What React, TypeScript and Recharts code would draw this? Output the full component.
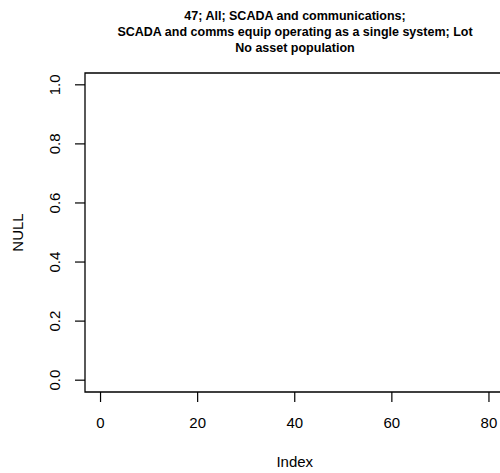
import React from 'react';
import { ComposedChart, XAxis, YAxis, Scatter, ReferenceArea } from 'recharts';

const titleLines: string[] = [
  '47; All; SCADA and communications;',
  'SCADA and comms equip operating as a single system; Lot',
  'No asset population',
];
const xTicks: number[] = [0, 20, 40, 60, 80];
const yTicks: number[] = [0, 0.2, 0.4, 0.6, 0.8, 1.0];
const xRange: number[] = [0, 80];
const yRange: number[] = [0, 1];
const seriesValues: { x: number; y: number }[] = []; // NULL: no asset population
const xLabel = 'Index';
const yLabel = 'NULL';

const pad = (r: number[]) => {
  const d = (r[1] - r[0]) * 0.04;
  return [r[0] - d, r[1] + d];
};
const xDomain = pad(xRange);
const yDomain = pad(yRange);

const FONT = '"Liberation Sans", Arial, Helvetica, sans-serif';

const YTick = (props: any) => {
  const { x, y, payload } = props;
  return (
    <text
      x={x}
      y={y}
      transform={`rotate(-90, ${x}, ${y})`}
      textAnchor="middle"
      fontSize={15}
      fontFamily={FONT}
      fill="#000"
    >
      {Number(payload.value).toFixed(1)}
    </text>
  );
};

const XTick = (props: any) => {
  const { x, y, payload } = props;
  return (
    <text x={x} y={y} dy={11} textAnchor="middle" fontSize={15} fontFamily={FONT} fill="#000">
      {payload.value}
    </text>
  );
};

const YLabel = (props: any) => {
  const vb = props.viewBox || {};
  const cx = 23;
  const cy = vb.y + vb.height / 2;
  return (
    <text
      x={cx}
      y={cy}
      transform={`rotate(-90, ${cx}, ${cy})`}
      textAnchor="middle"
      fontSize={15}
      fontFamily={FONT}
      fill="#000"
    >
      {yLabel}
    </text>
  );
};

const XLabel = (props: any) => {
  const vb = props.viewBox || {};
  const cx = vb.x + vb.width / 2;
  return (
    <text x={cx} y={467} textAnchor="middle" fontSize={15} fontFamily={FONT} fill="#000">
      {xLabel}
    </text>
  );
};

export default function App() {
  return (
    <div
      style={{
        position: 'fixed',
        left: 0,
        top: 0,
        width: 500,
        height: 473,
        overflow: 'hidden',
        background: '#fff',
      }}
    >
      <div
        style={{
          position: 'absolute',
          left: 85,
          top: 8,
          width: 420,
          textAlign: 'center',
          fontFamily: FONT,
          fontWeight: 'bold',
          fontSize: 12.5,
          lineHeight: '16px',
          color: '#000',
          zIndex: 2,
        }}
      >
        {titleLines.map((t, i) => (
          <div key={i}>{t}</div>
        ))}
      </div>
      <ComposedChart
        width={520}
        height={473}
        data={seriesValues}
        margin={{ top: 73, right: 15.5, bottom: 0, left: 0 }}
      >
        <XAxis
          type="number"
          dataKey="x"
          domain={xDomain}
          ticks={xTicks}
          allowDataOverflow
          axisLine={false}
          tickLine={{ stroke: '#000', strokeWidth: 1.2 }}
          tickSize={10}
          tickMargin={15}
          height={81}
          tick={<XTick />}
          interval={0}
          label={<XLabel />}
        />
        <YAxis
          type="number"
          dataKey="y"
          domain={yDomain}
          ticks={yTicks}
          allowDataOverflow
          axisLine={false}
          tickLine={{ stroke: '#000', strokeWidth: 1.2 }}
          tickSize={10}
          tickMargin={15}
          width={85}
          tick={<YTick />}
          interval={0}
          label={<YLabel />}
        />
        <ReferenceArea
          x1={xDomain[0]}
          x2={xDomain[1]}
          y1={yDomain[0]}
          y2={yDomain[1]}
          fill="none"
          fillOpacity={0}
          stroke="#000"
          strokeWidth={1.3}
          ifOverflow="visible"
        />
        <Scatter data={seriesValues} dataKey="y" fill="#000" isAnimationActive={false} />
      </ComposedChart>
    </div>
  );
}
